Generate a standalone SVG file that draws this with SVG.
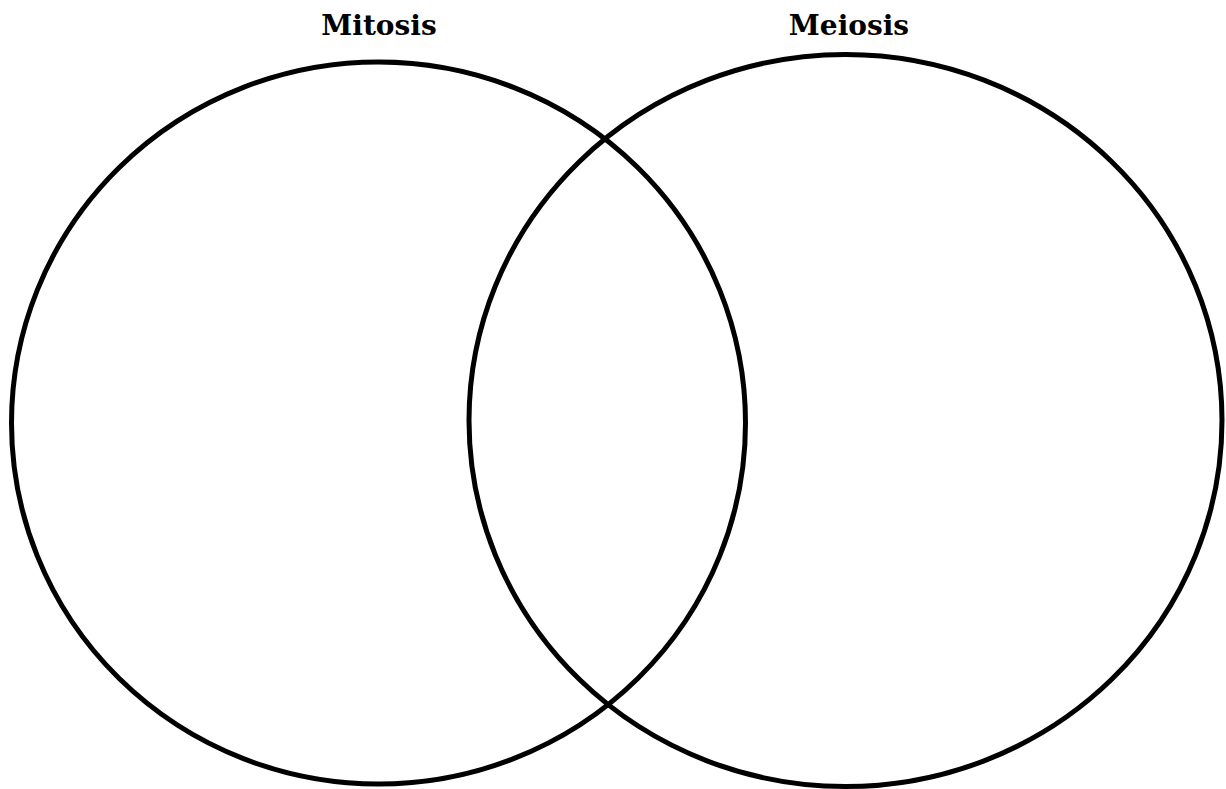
<svg xmlns="http://www.w3.org/2000/svg" width="1226" height="789" viewBox="0 0 1226 789">
<style>
.c{fill:none;stroke:#000;stroke-width:5}
.t{font-family:"DejaVu Serif","Liberation Serif",serif;font-weight:bold;font-size:28px;fill:#000;text-anchor:middle}
</style>
<rect width="1226" height="789" fill="#fff"/>
<g id="mitosis">
<ellipse class="c" cx="378.5" cy="423" rx="367" ry="361"/>
<text class="t" x="379" y="35">Mitosis</text>
</g>
<g id="meiosis">
<ellipse class="c" cx="845.5" cy="420.5" rx="376.5" ry="366"/>
<text class="t" x="849" y="35">Meiosis</text>
</g>
<g id="connectors"></g>
</svg>
